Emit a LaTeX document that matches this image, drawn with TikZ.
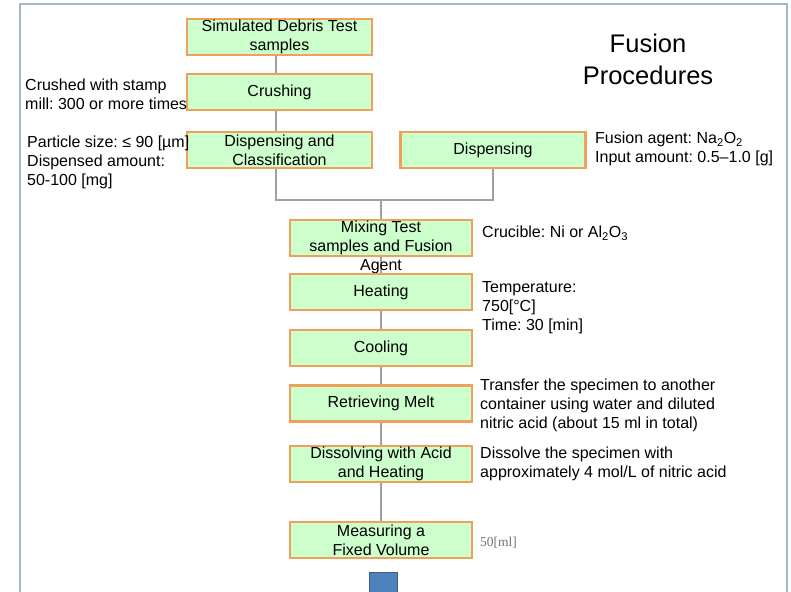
\documentclass[tikz,border=0pt]{standalone}
\usepackage{fontspec}
\setmainfont{Liberation Sans}
\newfontfamily\serifsmall{Liberation Serif}
\usetikzlibrary{backgrounds}
\frenchspacing
\definecolor{boxfill}{RGB}{204,255,204}
\definecolor{boxline}{RGB}{240,160,90}
\definecolor{conn}{RGB}{160,160,160}
\definecolor{frame}{RGB}{166,182,204}
\definecolor{sqfill}{RGB}{79,129,189}
\definecolor{sqline}{RGB}{56,93,138}
\tikzset{
  stepbox/.style={draw=boxline, fill=boxfill, line width=2.5pt, inner sep=0pt,
    minimum height=36pt, align=center, font=\fontsize{16}{19}\selectfont},
  wide/.style={minimum width=185pt},
  narrow/.style={minimum width=182pt},
  note/.style={anchor=west, align=left, inner sep=0pt, font=\fontsize{16}{19}\selectfont},
  conline/.style={draw=conn, line width=2pt},
}
\begin{document}
\begin{tikzpicture}[x=1pt,y=-1pt]
\useasboundingbox (0,0) rectangle (791,591);
\clip (0,0) rectangle (791,591);

\node[stepbox,wide] (b1) at (279.5,37) {Simulated Debris Test\\samples};
\node[stepbox,wide] (b2) at (279.5,92) {Crushing};
\node[stepbox,wide] (b3) at (279.5,150) {Dispensing and\\Classification};
\node[stepbox,wide] (disp) at (493,150) {Dispensing};
\node[stepbox,narrow] (mix) at (381,238) {};
\node[align=center, inner sep=0pt, font=\fontsize{16}{19}\selectfont] (mixt) at (381,247.5) {Mixing Test\\samples and Fusion\\Agent};
\node[stepbox,narrow] (heat) at (381,292) {Heating};
\node[stepbox,narrow] (cool) at (381,348) {Cooling};
\node[stepbox,narrow] (ret) at (381,403.5) {Retrieving Melt};
\node[stepbox,narrow] (diss) at (381,464) {Dissolving with Acid\\and Heating};
\node[stepbox,narrow] (meas) at (381,540) {Measuring a\\Fixed Volume};

\coordinate (jl) at (276,200);
\coordinate (jm) at (381,200);
\coordinate (jr) at (493,200);

\begin{scope}[on background layer]
\fill[white] (0,0) rectangle (791,591);
\draw[frame, line width=2pt] (20,595) -- (20,4) -- (787,4) -- (787,595);
\draw[conline] ([xshift=-3.5pt]b1.south) -- ([xshift=-3.5pt]b3.north);
\draw[conline] ([xshift=-3.5pt]b3.south) -- (jl) -- (jr) -- (disp.south);
\draw[conline] (jm) -- (mix.north);
\draw[conline] (mix.south) -- (meas.north);
\end{scope}

\node[align=center, inner sep=0pt, font=\fontsize{25.5}{32}\selectfont] (title) at (648,59) {Fusion\\Procedures};

\node[note] (n1) at (25,94.5) {Crushed with stamp\\mill: 300 or more times};
\node[note] (n2) at (27,162.5) {Particle size: ≤ 90 [µm]\\Dispensed amount:\\50-100 [mg]};
\node[note] (n3) at (595,149) {Fusion agent: Na\textsubscript{2}O\textsubscript{2}\\Input amount: 0.5–1.0 [g]};
\node[note] (n4) at (482,233) {Crucible: Ni or Al\textsubscript{2}O\textsubscript{3}};
\node[note] (n5) at (482,308) {Temperature:\\750[°C]\\Time: 30 [min]};
\node[note] (n6) at (480,405) {Transfer the specimen to another\\container using water and diluted\\nitric acid (about 15 ml in total)};
\node[note] (n7) at (480,464) {Dissolve the specimen with\\approximately 4 mol/L of nitric acid};
\node[anchor=west, inner sep=0pt, text=black!55, font=\serifsmall\fontsize{13.5}{15}\selectfont] (n8) at (480,543) {50[ml]};

\node[draw=sqline, fill=sqfill, line width=1pt, minimum width=28pt, minimum height=24pt, inner sep=0pt] (sq) at (383,584) {};
\end{tikzpicture}
\end{document}
